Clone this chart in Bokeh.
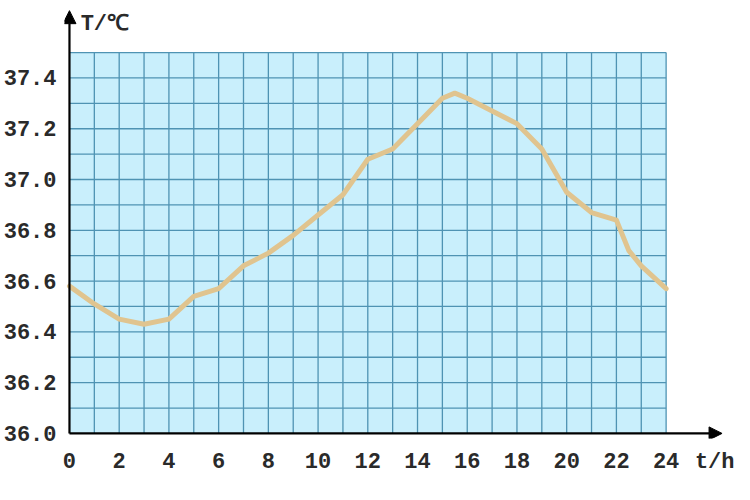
import numpy as np
from bokeh.plotting import figure
from bokeh.models import Range1d, FixedTicker, PrintfTickFormatter, Arrow, NormalHead, Label, CustomJSTickFormatter
from bokeh.embed import file_html
from bokeh.resources import INLINE

# --- data ---
HOURS = [0, 1, 2, 3, 4, 5, 6, 7, 8, 9, 10, 11, 12, 13, 14, 15, 15.5, 16, 17, 18, 19, 20, 21, 22, 22.5, 23, 24]
TEMPS = [36.58, 36.51, 36.45, 36.43, 36.45, 36.54, 36.57, 36.66, 36.71, 36.78, 36.86, 36.94, 37.08, 37.12,
         37.22, 37.32, 37.34, 37.32, 37.27, 37.22, 37.12, 36.95, 36.87, 36.84, 36.72, 36.66, 36.57]
X_TICKS = [0, 2, 4, 6, 8, 10, 12, 14, 16, 18, 20, 22, 24]
Y_TICKS = [36.0, 36.2, 36.4, 36.6, 36.8, 37.0, 37.2, 37.4]
X_MIN, X_MAX, X_STEP = 0, 24, 1
Y_MIN, Y_MAX, Y_STEP = 36.0, 37.5, 0.1
Y_LABEL = "T/℃"
X_LABEL = "t/h"
X_LABEL_POS = 26.0

FONT = "Liberation Mono"
GRID_COLOR = "#4f93b3"
BG_COLOR = "#c9effc"
CURVE_COLOR = "#e0c48f"
TEXT_COLOR = "#2a2a2a"

p = figure(width=734, height=484,
           x_range=Range1d(-0.2, 26.67), y_range=Range1d(35.98, 37.705),
           output_backend="svg", toolbar_location=None,
           min_border_left=64, min_border_right=2, min_border_top=0, min_border_bottom=46)
p.outline_line_color = None
p.grid.visible = False
p.background_fill_color = "white"
p.border_fill_color = "white"

# grid background
p.quad(left=X_MIN, right=X_MAX, bottom=Y_MIN, top=Y_MAX, fill_color=BG_COLOR, line_color=None)

# grid lines
xs = np.arange(X_MIN + X_STEP, X_MAX + X_STEP / 2, X_STEP)
ys = np.round(np.arange(Y_MIN + Y_STEP, Y_MAX + Y_STEP / 2, Y_STEP), 2)
p.segment(x0=xs, y0=Y_MIN, x1=xs, y1=Y_MAX, line_color=GRID_COLOR, line_width=1.3)
p.segment(x0=X_MIN, y0=ys, x1=X_MAX, y1=ys, line_color=GRID_COLOR, line_width=1.3)

# curve
p.line(HOURS, TEMPS, line_color=CURVE_COLOR, line_width=5, line_join="round", line_cap="round")

# axes (labels only)
p.xaxis.ticker = FixedTicker(ticks=X_TICKS + [X_LABEL_POS])
p.xaxis.major_label_overrides = {X_LABEL_POS: X_LABEL}
p.yaxis.ticker = FixedTicker(ticks=Y_TICKS)
for ax in (p.xaxis, p.yaxis):
    ax.axis_line_color = None
    ax.major_tick_line_color = None
    ax.minor_tick_line_color = None
    ax.major_label_text_font = FONT
    ax.major_label_text_font_size = "22px"
    ax.major_label_text_font_style = "bold"
    ax.major_label_text_color = TEXT_COLOR
p.yaxis.formatter = PrintfTickFormatter(format="%.1f")
p.yaxis.major_label_standoff = 2
p.xaxis.major_label_standoff = 5

# arrow axes
p.add_layout(Arrow(end=NormalHead(size=13, fill_color="black", line_color="black"),
                   x_start=X_MIN, y_start=Y_MIN, x_end=X_MIN, y_end=37.665,
                   line_color="black", line_width=2.2))
p.add_layout(Arrow(end=NormalHead(size=13, fill_color="black", line_color="black"),
                   x_start=X_MIN, y_start=Y_MIN, x_end=26.25, y_end=Y_MIN,
                   line_color="black", line_width=2.2))

p.add_layout(Label(x=0.45, y=37.61, text=Y_LABEL, text_font=FONT, text_font_size="22px",
                   text_font_style="bold", text_baseline="middle", text_align="left", text_color=TEXT_COLOR))

open("out.html", "w").write(file_html(p, INLINE))
